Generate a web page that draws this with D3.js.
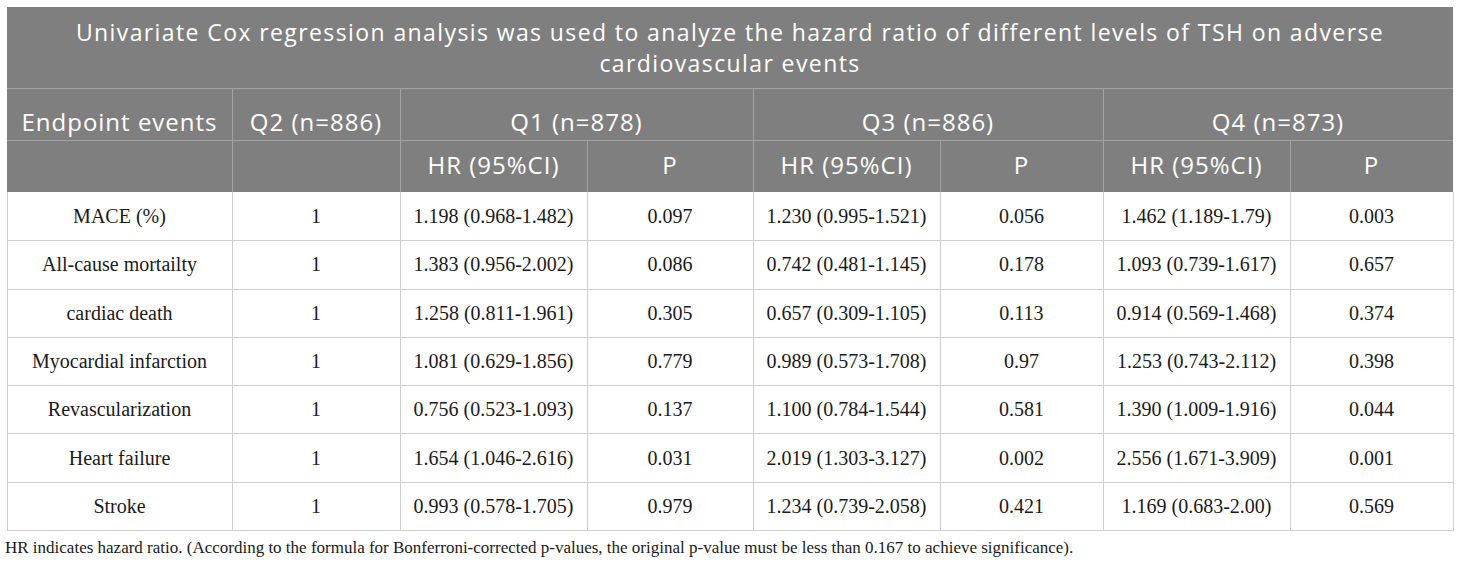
<!DOCTYPE html>
<html>
<head>
<meta charset="utf-8">
<script src="https://cdn.jsdelivr.net/npm/d3@7"></script>
<style>
  body { margin: 0; background: #fff; }
</style>
</head>
<body>
<div class="chart"></div>
<script>
// Table data
var title = [
  "Univariate Cox regression analysis was used to analyze the hazard ratio of different levels of TSH on adverse",
  "cardiovascular events"
];
var groupHeaders = ["Endpoint events", "Q2 (n=886)", "Q1 (n=878)", "Q3 (n=886)", "Q4 (n=873)"];
var subHeaders = ["", "", "HR (95%CI)", "P", "HR (95%CI)", "P", "HR (95%CI)", "P"];
var endpoints = ["MACE (%)", "All-cause mortailty", "cardiac death", "Myocardial infarction",
  "Revascularization", "Heart failure", "Stroke"];
var q2Ref = ["1", "1", "1", "1", "1", "1", "1"];
var q1HR = ["1.198 (0.968-1.482)", "1.383 (0.956-2.002)", "1.258 (0.811-1.961)", "1.081 (0.629-1.856)",
  "0.756 (0.523-1.093)", "1.654 (1.046-2.616)", "0.993 (0.578-1.705)"];
var q1P = ["0.097", "0.086", "0.305", "0.779", "0.137", "0.031", "0.979"];
var q3HR = ["1.230 (0.995-1.521)", "0.742 (0.481-1.145)", "0.657 (0.309-1.105)", "0.989 (0.573-1.708)",
  "1.100 (0.784-1.544)", "2.019 (1.303-3.127)", "1.234 (0.739-2.058)"];
var q3P = ["0.056", "0.178", "0.113", "0.97", "0.581", "0.002", "0.421"];
var q4HR = ["1.462 (1.189-1.79)", "1.093 (0.739-1.617)", "0.914 (0.569-1.468)", "1.253 (0.743-2.112)",
  "1.390 (1.009-1.916)", "2.556 (1.671-3.909)", "1.169 (0.683-2.00)"];
var q4P = ["0.003", "0.657", "0.374", "0.398", "0.044", "0.001", "0.569"];
var footnote = "HR indicates hazard ratio. (According to the formula for Bonferroni-corrected p-values, the original p-value must be less than 0.167 to achieve significance).";

// Layout
var svgWidth = 1460;
var svgHeight = 567;
var colEdges = [7, 232, 400, 587, 753, 940, 1103, 1290, 1453];
var groupSpans = [[0, 1], [1, 2], [2, 4], [4, 6], [6, 8]];
var titleTop = 7, titleBottom = 88, head1Bottom = 140, headBottom = 192, tableBottom = 530;

var headFill = "#7f7f7f";
var headLine = "#a3a3a3";
var bodyLine = "#cfcfcf";
var headFont = "'Open Sans', 'Noto Sans', sans-serif";
var bodyFont = "'Liberation Serif', 'Times New Roman', serif";

var svg = d3.select(".chart")
  .append("svg")
  .attr("width", svgWidth)
  .attr("height", svgHeight);

var rows = endpoints.map(function(name, i) {
  return [name, q2Ref[i], q1HR[i], q1P[i], q3HR[i], q3P[i], q4HR[i], q4P[i]];
});

var y = d3.scaleBand()
  .domain(endpoints)
  .range([headBottom, tableBottom]);

var colCenter = function(a, b) { return (colEdges[a] + colEdges[b]) / 2; };

// Header background
svg.append("rect")
  .attr("x", colEdges[0])
  .attr("y", titleTop)
  .attr("width", colEdges[8] - colEdges[0])
  .attr("height", headBottom - titleTop)
  .attr("fill", headFill);

// Header grid lines
var hg = svg.append("g")
  .attr("stroke", headLine)
  .attr("stroke-width", 1);

[titleBottom, head1Bottom].forEach(function(yy) {
  hg.append("line")
    .attr("x1", colEdges[0]).attr("x2", colEdges[8])
    .attr("y1", yy + 0.5).attr("y2", yy + 0.5);
});
[1, 2, 4, 6].forEach(function(c) {
  hg.append("line")
    .attr("x1", colEdges[c] + 0.5).attr("x2", colEdges[c] + 0.5)
    .attr("y1", titleBottom).attr("y2", headBottom);
});
[3, 5, 7].forEach(function(c) {
  hg.append("line")
    .attr("x1", colEdges[c] + 0.5).attr("x2", colEdges[c] + 0.5)
    .attr("y1", head1Bottom).attr("y2", headBottom);
});

// Title
svg.selectAll(".title")
  .data(title)
  .enter()
  .append("text")
  .attr("class", "title")
  .attr("x", (colEdges[0] + colEdges[8]) / 2)
  .attr("y", function(d, i) { return 33 + i * 31; })
  .attr("dy", "0.35em")
  .attr("text-anchor", "middle")
  .attr("font-family", headFont)
  .attr("font-size", "23px")
  .attr("letter-spacing", "1.4px")
  .attr("fill", "#fff")
  .text(function(d) { return d; });

// Group header row
svg.selectAll(".ghead")
  .data(groupHeaders)
  .enter()
  .append("text")
  .attr("class", "ghead")
  .attr("x", function(d, i) { return colCenter(groupSpans[i][0], groupSpans[i][1]); })
  .attr("y", 122.5)
  .attr("dy", "0.35em")
  .attr("text-anchor", "middle")
  .attr("font-family", headFont)
  .attr("font-size", "24px")
  .attr("letter-spacing", "1px")
  .attr("fill", "#fff")
  .text(function(d) { return d; });

// Sub header row
svg.selectAll(".shead")
  .data(subHeaders)
  .enter()
  .append("text")
  .attr("class", "shead")
  .attr("x", function(d, i) { return colCenter(i, i + 1); })
  .attr("y", (head1Bottom + headBottom) / 2)
  .attr("dy", "0.35em")
  .attr("text-anchor", "middle")
  .attr("font-family", headFont)
  .attr("font-size", "24px")
  .attr("letter-spacing", "1px")
  .attr("fill", "#fff")
  .text(function(d) { return d; });

// Body grid lines
var bg = svg.append("g")
  .attr("stroke", bodyLine)
  .attr("stroke-width", 1);

endpoints.forEach(function(name) {
  bg.append("line")
    .attr("x1", colEdges[0]).attr("x2", colEdges[8])
    .attr("y1", Math.round(y(name) + y.bandwidth()) + 0.5)
    .attr("y2", Math.round(y(name) + y.bandwidth()) + 0.5);
});
colEdges.forEach(function(cx) {
  bg.append("line")
    .attr("x1", cx + 0.5).attr("x2", cx + 0.5)
    .attr("y1", headBottom).attr("y2", tableBottom + 1);
});

// Body cells
var rowGroups = svg.selectAll(".row")
  .data(rows)
  .enter()
  .append("g")
  .attr("class", "row")
  .attr("transform", function(d) { return `translate(0, ${y(d[0]) + y.bandwidth() / 2})`; });

rowGroups.selectAll("text")
  .data(function(d) { return d; })
  .enter()
  .append("text")
  .attr("x", function(d, i) { return colCenter(i, i + 1); })
  .attr("dy", "0.35em")
  .attr("text-anchor", "middle")
  .attr("font-family", bodyFont)
  .attr("font-size", "20px")
  .attr("fill", "#1a1a1a")
  .text(function(d) { return d; });

// Footnote
svg.append("text")
  .attr("x", 5)
  .attr("y", 547)
  .attr("dy", "0.35em")
  .attr("font-family", bodyFont)
  .attr("font-size", "17px")
  .attr("fill", "#1a1a1a")
  .text(footnote);
</script>
</body>
</html>
